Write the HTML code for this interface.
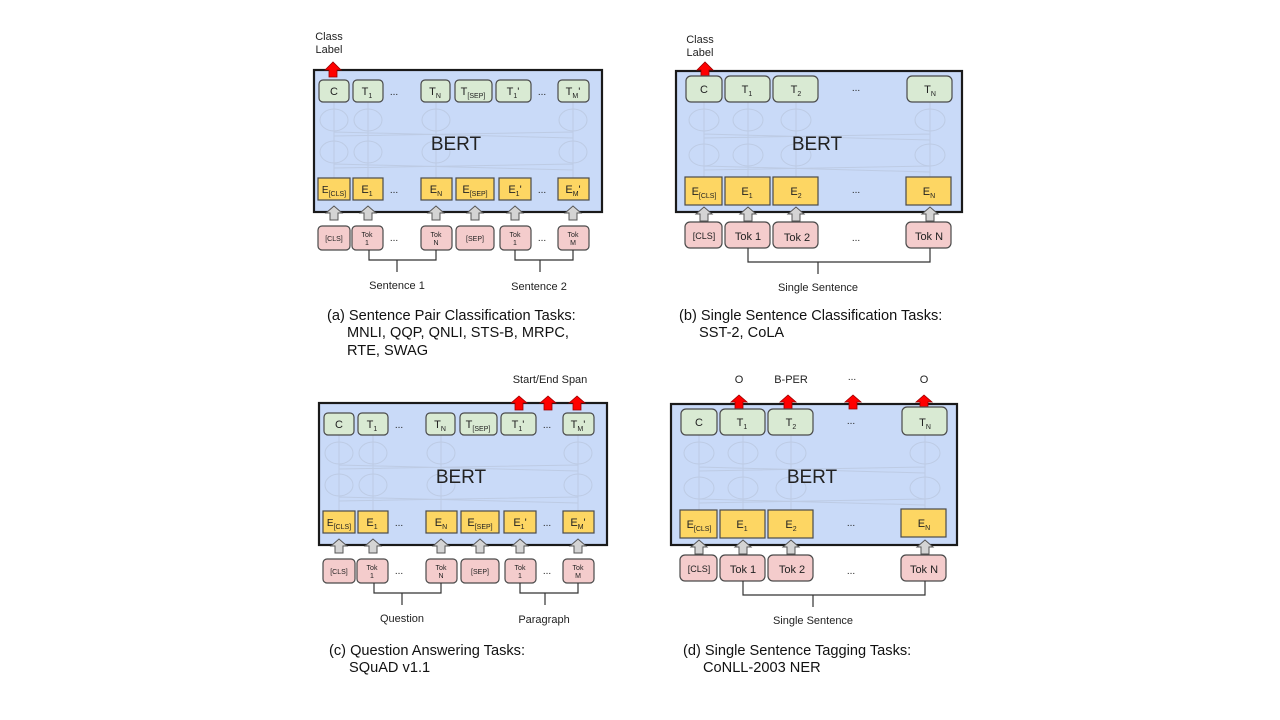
<!DOCTYPE html>
<html><head><meta charset="utf-8"><style>
html,body{margin:0;padding:0;background:#fff;}
svg{display:block;font-family:"Liberation Sans",sans-serif;}
.box{fill:#c9daf8;stroke:#1a1a1a;stroke-width:2.2}
.g{fill:#d9ead3;stroke:#4a4a4a;stroke-width:1.2}
.y{fill:#fdd663;stroke:#4a4a4a;stroke-width:1.2}
.p{fill:#f4cccc;stroke:#4a4a4a;stroke-width:1.2}
.ga{fill:#d4d4d4;stroke:#555;stroke-width:1}
.ra{fill:#f00;stroke:#900;stroke-width:0.8}
.n{fill:none;stroke:#bdcbe4;stroke-width:1}
.t{fill:#222;text-anchor:middle}
.br{fill:none;stroke:#333;stroke-width:1.2}
.cap{fill:#111;font-size:14.6px}
</style></head><body>
<svg width="1280" height="720" viewBox="0 0 1280 720">

<!-- ================= Panel A ================= -->
<text class="t" x="329" y="40" font-size="11">Class</text>
<text class="t" x="329" y="53" font-size="11">Label</text>
<rect class="box" x="314" y="70" width="288" height="142"/>
<g class="n">
<ellipse cx="334" cy="120" rx="14" ry="11"/><ellipse cx="368" cy="120" rx="14" ry="11"/><ellipse cx="436" cy="120" rx="14" ry="11"/><ellipse cx="573" cy="120" rx="14" ry="11"/>
<ellipse cx="334" cy="152" rx="14" ry="11"/><ellipse cx="368" cy="152" rx="14" ry="11"/><ellipse cx="436" cy="152" rx="14" ry="11"/><ellipse cx="573" cy="152" rx="14" ry="11"/>
<path d="M334 102V178M368 102V178M436 102V178M573 102V178M334 136L573 132M334 132L573 138M334 168L573 164M334 164L573 170"/>
</g>
<polygon class="ra" points="325,70 333,62 341,70 337,70 337,77 329,77 329,70"/>
<rect class="g" x="319" y="80" width="30" height="22" rx="4"/><text class="t" x="334" y="95" font-size="11">C</text>
<rect class="g" x="353" y="80" width="30" height="22" rx="4"/><text class="t" x="367" y="95" font-size="11">T<tspan font-size="7" dy="3">1</tspan></text>
<text class="t" x="394" y="95" font-size="10">...</text>
<rect class="g" x="421" y="80" width="29" height="22" rx="4"/><text class="t" x="435" y="95" font-size="11">T<tspan font-size="7" dy="3">N</tspan></text>
<rect class="g" x="455" y="80" width="37" height="22" rx="4"/><text class="t" x="473" y="95" font-size="11">T<tspan font-size="7" dy="3">[SEP]</tspan></text>
<rect class="g" x="496" y="80" width="35" height="22" rx="4"/><text class="t" x="513" y="95" font-size="11">T<tspan font-size="7" dy="3">1</tspan><tspan dy="-3">'</tspan></text>
<text class="t" x="542" y="95" font-size="10">...</text>
<rect class="g" x="558" y="80" width="31" height="22" rx="4"/><text class="t" x="573" y="95" font-size="11">T<tspan font-size="7" dy="3">M</tspan><tspan dy="-3">'</tspan></text>
<text class="t" x="456" y="150" font-size="19">BERT</text>
<rect class="y" x="318" y="178" width="32" height="22"/><text class="t" x="334" y="193" font-size="10">E<tspan font-size="7" dy="3">[CLS]</tspan></text>
<rect class="y" x="353" y="178" width="30" height="22"/><text class="t" x="367" y="193" font-size="11">E<tspan font-size="7" dy="3">1</tspan></text>
<text class="t" x="394" y="193" font-size="10">...</text>
<rect class="y" x="421" y="178" width="31" height="22"/><text class="t" x="436" y="193" font-size="11">E<tspan font-size="7" dy="3">N</tspan></text>
<rect class="y" x="456" y="178" width="38" height="22"/><text class="t" x="475" y="193" font-size="11">E<tspan font-size="7" dy="3">[SEP]</tspan></text>
<rect class="y" x="499" y="178" width="32" height="22"/><text class="t" x="515" y="193" font-size="11">E<tspan font-size="7" dy="3">1</tspan><tspan dy="-3">'</tspan></text>
<text class="t" x="542" y="193" font-size="10">...</text>
<rect class="y" x="558" y="178" width="31" height="22"/><text class="t" x="573" y="193" font-size="11">E<tspan font-size="7" dy="3">M</tspan><tspan dy="-3">'</tspan></text>
<g class="ga">
<polygon points="326,213 334,206 342,213 338,213 338,220 330,220 330,213"/>
<polygon points="360,213 368,206 376,213 372,213 372,220 364,220 364,213"/>
<polygon points="428,213 436,206 444,213 440,213 440,220 432,220 432,213"/>
<polygon points="467,213 475,206 483,213 479,213 479,220 471,220 471,213"/>
<polygon points="507,213 515,206 523,213 519,213 519,220 511,220 511,213"/>
<polygon points="565,213 573,206 581,213 577,213 577,220 569,220 569,213"/>
</g>
<rect class="p" x="318" y="226" width="32" height="24" rx="4"/><text class="t" x="334" y="241" font-size="7">[CLS]</text>
<rect class="p" x="352" y="226" width="31" height="24" rx="4"/><text class="t" x="367" y="237" font-size="7">Tok</text><text class="t" x="367" y="245" font-size="7">1</text>
<text class="t" x="394" y="241" font-size="10">...</text>
<rect class="p" x="421" y="226" width="31" height="24" rx="4"/><text class="t" x="436" y="237" font-size="7">Tok</text><text class="t" x="436" y="245" font-size="7">N</text>
<rect class="p" x="456" y="226" width="38" height="24" rx="4"/><text class="t" x="475" y="241" font-size="7">[SEP]</text>
<rect class="p" x="500" y="226" width="31" height="24" rx="4"/><text class="t" x="515" y="237" font-size="7">Tok</text><text class="t" x="515" y="245" font-size="7">1</text>
<text class="t" x="542" y="241" font-size="10">...</text>
<rect class="p" x="558" y="226" width="31" height="24" rx="4"/><text class="t" x="573" y="237" font-size="7">Tok</text><text class="t" x="573" y="245" font-size="7">M</text>
<path class="br" d="M369 250V260H436V250M397 260V272M515 250V260H573V250M540 260V272"/>
<text class="t" x="397" y="289" font-size="11">Sentence 1</text>
<text class="t" x="539" y="290" font-size="11">Sentence 2</text>
<text class="cap" x="327" y="320">(a) Sentence Pair Classification Tasks:</text>
<text class="cap" x="347" y="337">MNLI, QQP, QNLI, STS-B, MRPC,</text>
<text class="cap" x="347" y="355">RTE, SWAG</text>

<!-- ================= Panel B ================= -->
<text class="t" x="700" y="43" font-size="11">Class</text>
<text class="t" x="700" y="56" font-size="11">Label</text>
<rect class="box" x="676" y="71" width="286" height="141"/>
<g class="n">
<ellipse cx="704" cy="120" rx="15" ry="11"/><ellipse cx="748" cy="120" rx="15" ry="11"/><ellipse cx="796" cy="120" rx="15" ry="11"/><ellipse cx="930" cy="120" rx="15" ry="11"/>
<ellipse cx="704" cy="155" rx="15" ry="11"/><ellipse cx="748" cy="155" rx="15" ry="11"/><ellipse cx="796" cy="155" rx="15" ry="11"/><ellipse cx="930" cy="155" rx="15" ry="11"/>
<path d="M704 102V177M748 102V177M796 102V177M930 102V177M704 138L930 134M704 134L930 140M704 170L930 166M704 166L930 172"/>
</g>
<polygon class="ra" points="697,70 705,62 713,70 709,70 709,76 701,76 701,70"/>
<rect class="g" x="686" y="76" width="36" height="26" rx="5"/><text class="t" x="704" y="93" font-size="11">C</text>
<rect class="g" x="725" y="76" width="45" height="26" rx="5"/><text class="t" x="747" y="93" font-size="11">T<tspan font-size="7" dy="3">1</tspan></text>
<rect class="g" x="773" y="76" width="45" height="26" rx="5"/><text class="t" x="796" y="93" font-size="11">T<tspan font-size="7" dy="3">2</tspan></text>
<text class="t" x="856" y="91" font-size="10">...</text>
<rect class="g" x="907" y="76" width="45" height="26" rx="5"/><text class="t" x="930" y="93" font-size="11">T<tspan font-size="7" dy="3">N</tspan></text>
<text class="t" x="817" y="150" font-size="19">BERT</text>
<rect class="y" x="685" y="177" width="37" height="28"/><text class="t" x="704" y="195" font-size="11">E<tspan font-size="7" dy="3">[CLS]</tspan></text>
<rect class="y" x="725" y="177" width="45" height="28"/><text class="t" x="747" y="195" font-size="11">E<tspan font-size="7" dy="3">1</tspan></text>
<rect class="y" x="773" y="177" width="45" height="28"/><text class="t" x="796" y="195" font-size="11">E<tspan font-size="7" dy="3">2</tspan></text>
<text class="t" x="856" y="193" font-size="10">...</text>
<rect class="y" x="906" y="177" width="45" height="28"/><text class="t" x="929" y="195" font-size="11">E<tspan font-size="7" dy="3">N</tspan></text>
<g class="ga">
<polygon points="696,214 704,207 712,214 708,214 708,221 700,221 700,214"/>
<polygon points="740,214 748,207 756,214 752,214 752,221 744,221 744,214"/>
<polygon points="788,214 796,207 804,214 800,214 800,221 792,221 792,214"/>
<polygon points="922,214 930,207 938,214 934,214 934,221 926,221 926,214"/>
</g>
<rect class="p" x="685" y="222" width="37" height="26" rx="5"/><text class="t" x="704" y="239" font-size="9">[CLS]</text>
<rect class="p" x="725" y="222" width="45" height="26" rx="5"/><text class="t" x="748" y="240" font-size="11">Tok 1</text>
<rect class="p" x="773" y="222" width="45" height="26" rx="5"/><text class="t" x="797" y="241" font-size="11">Tok 2</text>
<text class="t" x="856" y="241" font-size="10">...</text>
<rect class="p" x="906" y="222" width="45" height="26" rx="5"/><text class="t" x="929" y="240" font-size="11">Tok N</text>
<path class="br" d="M748 248V262H930V248M818 262V274"/>
<text class="t" x="818" y="291" font-size="11">Single Sentence</text>
<text class="cap" x="679" y="320">(b) Single Sentence Classification Tasks:</text>
<text class="cap" x="699" y="337">SST-2, CoLA</text>

<!-- ================= Panel C ================= -->
<text class="t" x="550" y="383" font-size="11">Start/End Span</text>
<rect class="box" x="319" y="403" width="288" height="142"/>
<g class="n">
<ellipse cx="339" cy="453" rx="14" ry="11"/><ellipse cx="373" cy="453" rx="14" ry="11"/><ellipse cx="441" cy="453" rx="14" ry="11"/><ellipse cx="578" cy="453" rx="14" ry="11"/>
<ellipse cx="339" cy="485" rx="14" ry="11"/><ellipse cx="373" cy="485" rx="14" ry="11"/><ellipse cx="441" cy="485" rx="14" ry="11"/><ellipse cx="578" cy="485" rx="14" ry="11"/>
<path d="M339 435V511M373 435V511M441 435V511M578 435V511M339 469L578 465M339 465L578 471M339 501L578 497M339 497L578 503"/>
</g>
<g class="ra">
<polygon points="511,403 519,396 527,403 523,403 523,410 515,410 515,403"/>
<polygon points="540,403 548,396 556,403 552,403 552,410 544,410 544,403"/>
<polygon points="569,403 577,396 585,403 581,403 581,410 573,410 573,403"/>
</g>
<rect class="g" x="324" y="413" width="30" height="22" rx="4"/><text class="t" x="339" y="428" font-size="11">C</text>
<rect class="g" x="358" y="413" width="30" height="22" rx="4"/><text class="t" x="372" y="428" font-size="11">T<tspan font-size="7" dy="3">1</tspan></text>
<text class="t" x="399" y="428" font-size="10">...</text>
<rect class="g" x="426" y="413" width="29" height="22" rx="4"/><text class="t" x="440" y="428" font-size="11">T<tspan font-size="7" dy="3">N</tspan></text>
<rect class="g" x="460" y="413" width="37" height="22" rx="4"/><text class="t" x="478" y="428" font-size="11">T<tspan font-size="7" dy="3">[SEP]</tspan></text>
<rect class="g" x="501" y="413" width="35" height="22" rx="4"/><text class="t" x="518" y="428" font-size="11">T<tspan font-size="7" dy="3">1</tspan><tspan dy="-3">'</tspan></text>
<text class="t" x="547" y="428" font-size="10">...</text>
<rect class="g" x="563" y="413" width="31" height="22" rx="4"/><text class="t" x="578" y="428" font-size="11">T<tspan font-size="7" dy="3">M</tspan><tspan dy="-3">'</tspan></text>
<text class="t" x="461" y="483" font-size="19">BERT</text>
<rect class="y" x="323" y="511" width="32" height="22"/><text class="t" x="339" y="526" font-size="10">E<tspan font-size="7" dy="3">[CLS]</tspan></text>
<rect class="y" x="358" y="511" width="30" height="22"/><text class="t" x="372" y="526" font-size="11">E<tspan font-size="7" dy="3">1</tspan></text>
<text class="t" x="399" y="526" font-size="10">...</text>
<rect class="y" x="426" y="511" width="31" height="22"/><text class="t" x="441" y="526" font-size="11">E<tspan font-size="7" dy="3">N</tspan></text>
<rect class="y" x="461" y="511" width="38" height="22"/><text class="t" x="480" y="526" font-size="11">E<tspan font-size="7" dy="3">[SEP]</tspan></text>
<rect class="y" x="504" y="511" width="32" height="22"/><text class="t" x="520" y="526" font-size="11">E<tspan font-size="7" dy="3">1</tspan><tspan dy="-3">'</tspan></text>
<text class="t" x="547" y="526" font-size="10">...</text>
<rect class="y" x="563" y="511" width="31" height="22"/><text class="t" x="578" y="526" font-size="11">E<tspan font-size="7" dy="3">M</tspan><tspan dy="-3">'</tspan></text>
<g class="ga">
<polygon points="331,546 339,539 347,546 343,546 343,553 335,553 335,546"/>
<polygon points="365,546 373,539 381,546 377,546 377,553 369,553 369,546"/>
<polygon points="433,546 441,539 449,546 445,546 445,553 437,553 437,546"/>
<polygon points="472,546 480,539 488,546 484,546 484,553 476,553 476,546"/>
<polygon points="512,546 520,539 528,546 524,546 524,553 516,553 516,546"/>
<polygon points="570,546 578,539 586,546 582,546 582,553 574,553 574,546"/>
</g>
<rect class="p" x="323" y="559" width="32" height="24" rx="4"/><text class="t" x="339" y="574" font-size="7">[CLS]</text>
<rect class="p" x="357" y="559" width="31" height="24" rx="4"/><text class="t" x="372" y="570" font-size="7">Tok</text><text class="t" x="372" y="578" font-size="7">1</text>
<text class="t" x="399" y="574" font-size="10">...</text>
<rect class="p" x="426" y="559" width="31" height="24" rx="4"/><text class="t" x="441" y="570" font-size="7">Tok</text><text class="t" x="441" y="578" font-size="7">N</text>
<rect class="p" x="461" y="559" width="38" height="24" rx="4"/><text class="t" x="480" y="574" font-size="7">[SEP]</text>
<rect class="p" x="505" y="559" width="31" height="24" rx="4"/><text class="t" x="520" y="570" font-size="7">Tok</text><text class="t" x="520" y="578" font-size="7">1</text>
<text class="t" x="547" y="574" font-size="10">...</text>
<rect class="p" x="563" y="559" width="31" height="24" rx="4"/><text class="t" x="578" y="570" font-size="7">Tok</text><text class="t" x="578" y="578" font-size="7">M</text>
<path class="br" d="M374 583V593H441V583M402 593V605M520 583V593H578V583M545 593V605"/>
<text class="t" x="402" y="622" font-size="11">Question</text>
<text class="t" x="544" y="623" font-size="11">Paragraph</text>
<text class="cap" x="329" y="655">(c) Question Answering Tasks:</text>
<text class="cap" x="349" y="672">SQuAD v1.1</text>

<!-- ================= Panel D ================= -->
<text class="t" x="739" y="383" font-size="11">O</text>
<text class="t" x="791" y="383" font-size="11">B-PER</text>
<text class="t" x="852" y="380" font-size="10">...</text>
<text class="t" x="924" y="383" font-size="11">O</text>
<rect class="box" x="671" y="404" width="286" height="141"/>
<g class="n">
<ellipse cx="699" cy="453" rx="15" ry="11"/><ellipse cx="743" cy="453" rx="15" ry="11"/><ellipse cx="791" cy="453" rx="15" ry="11"/><ellipse cx="925" cy="453" rx="15" ry="11"/>
<ellipse cx="699" cy="488" rx="15" ry="11"/><ellipse cx="743" cy="488" rx="15" ry="11"/><ellipse cx="791" cy="488" rx="15" ry="11"/><ellipse cx="925" cy="488" rx="15" ry="11"/>
<path d="M699 435V510M743 435V510M791 435V510M925 435V510M699 471L925 467M699 467L925 473M699 503L925 499M699 499L925 505"/>
</g>
<g class="ra">
<polygon points="731,402 739,395 747,402 743,402 743,409 735,409 735,402"/>
<polygon points="780,402 788,395 796,402 792,402 792,409 784,409 784,402"/>
<polygon points="845,402 853,395 861,402 857,402 857,409 849,409 849,402"/>
<polygon points="916,402 924,395 932,402 928,402 928,409 920,409 920,402"/>
</g>
<rect class="g" x="681" y="409" width="36" height="26" rx="5"/><text class="t" x="699" y="426" font-size="11">C</text>
<rect class="g" x="720" y="409" width="45" height="26" rx="5"/><text class="t" x="742" y="426" font-size="11">T<tspan font-size="7" dy="3">1</tspan></text>
<rect class="g" x="768" y="409" width="45" height="26" rx="5"/><text class="t" x="791" y="426" font-size="11">T<tspan font-size="7" dy="3">2</tspan></text>
<text class="t" x="851" y="424" font-size="10">...</text>
<rect class="g" x="902" y="407" width="45" height="28" rx="5"/><text class="t" x="925" y="426" font-size="11">T<tspan font-size="7" dy="3">N</tspan></text>
<text class="t" x="812" y="483" font-size="19">BERT</text>
<rect class="y" x="680" y="510" width="37" height="28"/><text class="t" x="699" y="528" font-size="11">E<tspan font-size="7" dy="3">[CLS]</tspan></text>
<rect class="y" x="720" y="510" width="45" height="28"/><text class="t" x="742" y="528" font-size="11">E<tspan font-size="7" dy="3">1</tspan></text>
<rect class="y" x="768" y="510" width="45" height="28"/><text class="t" x="791" y="528" font-size="11">E<tspan font-size="7" dy="3">2</tspan></text>
<text class="t" x="851" y="526" font-size="10">...</text>
<rect class="y" x="901" y="509" width="45" height="28"/><text class="t" x="924" y="527" font-size="11">E<tspan font-size="7" dy="3">N</tspan></text>
<g class="ga">
<polygon points="691,547 699,540 707,547 703,547 703,554 695,554 695,547"/>
<polygon points="735,547 743,540 751,547 747,547 747,554 739,554 739,547"/>
<polygon points="783,547 791,540 799,547 795,547 795,554 787,554 787,547"/>
<polygon points="917,547 925,540 933,547 929,547 929,554 921,554 921,547"/>
</g>
<rect class="p" x="680" y="555" width="37" height="26" rx="5"/><text class="t" x="699" y="572" font-size="9">[CLS]</text>
<rect class="p" x="720" y="555" width="45" height="26" rx="5"/><text class="t" x="743" y="573" font-size="11">Tok 1</text>
<rect class="p" x="768" y="555" width="45" height="26" rx="5"/><text class="t" x="792" y="573" font-size="11">Tok 2</text>
<text class="t" x="851" y="574" font-size="10">...</text>
<rect class="p" x="901" y="555" width="45" height="26" rx="5"/><text class="t" x="924" y="573" font-size="11">Tok N</text>
<path class="br" d="M743 581V595H925V581M813 595V607"/>
<text class="t" x="813" y="624" font-size="11">Single Sentence</text>
<text class="cap" x="683" y="655">(d) Single Sentence Tagging Tasks:</text>
<text class="cap" x="703" y="672">CoNLL-2003 NER</text>
</svg>
</body></html>
